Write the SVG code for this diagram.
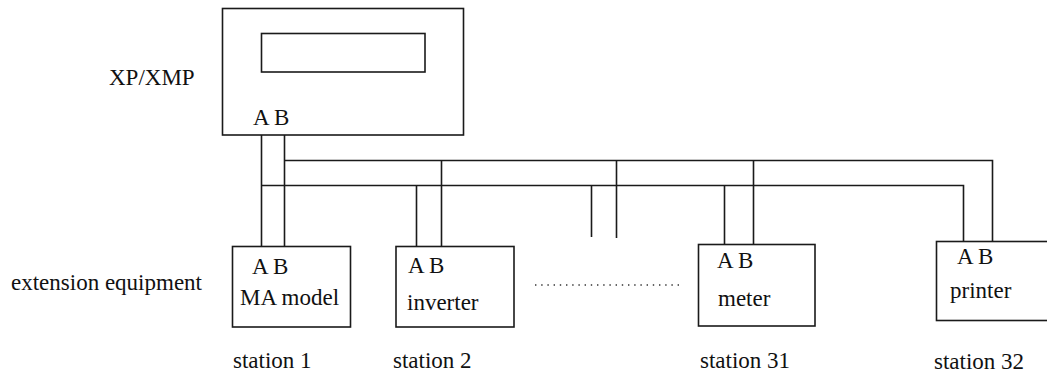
<svg xmlns="http://www.w3.org/2000/svg" width="1047" height="378" viewBox="0 0 1047 378">
<style>
.box{fill:#fff;stroke:#1a1a1a;stroke-width:1.6}
.ln{fill:none;stroke:#1a1a1a;stroke-width:1.6}
.t{font-family:"Liberation Serif","Times New Roman",serif;font-size:23px;fill:#111}
.dot{fill:none;stroke:#333;stroke-width:1.4;stroke-dasharray:1.4 4.8}
</style>
<rect width="1047" height="378" fill="#fff"/>
<g id="connectors">
<path class="ln" d="M261.5 135 V246.5 M284.5 135 V246.5"/>
<path class="ln" d="M261.5 185.5 H963.5 V241.5"/>
<path class="ln" d="M284.5 160.5 H992.5 V241.5"/>
<path class="ln" d="M416.5 185.5 V246.5 M441.5 160.5 V246.5"/>
<path class="ln" d="M591.5 185.5 V237 M616.5 160.5 V238"/>
<path class="ln" d="M724.5 185.5 V244.5 M753.5 160.5 V244.5"/>
<line class="dot" x1="535" y1="285" x2="680" y2="285"/>
</g>
<g id="xp">
<rect class="box" x="222.5" y="8.5" width="241" height="126.5"/>
<rect class="box" x="261.5" y="33.5" width="163.5" height="38.5"/>
<text class="t" x="253" y="125">A B</text>
<text class="t" x="109" y="85">XP/XMP</text>
</g>
<text class="t" x="11" y="290">extension equipment</text>
<g id="station1">
<rect class="box" x="232.5" y="246.5" width="118" height="80.5"/>
<text class="t" x="252" y="274">A B</text>
<text class="t" x="240" y="305">MA model</text>
<text class="t" x="233" y="368">station 1</text>
</g>
<g id="station2">
<rect class="box" x="396" y="246.5" width="118" height="80.5"/>
<text class="t" x="408" y="273">A B</text>
<text class="t" x="407" y="310">inverter</text>
<text class="t" x="393" y="368">station 2</text>
</g>
<g id="station31">
<rect class="box" x="698.5" y="244.5" width="116.5" height="81.5"/>
<text class="t" x="717" y="268">A B</text>
<text class="t" x="718" y="306">meter</text>
<text class="t" x="700" y="368">station 31</text>
</g>
<g id="station32">
<rect class="box" x="936.5" y="241.5" width="120" height="79"/>
<text class="t" x="957" y="264">A B</text>
<text class="t" x="950" y="298">printer</text>
<text class="t" x="934" y="369">station 32</text>
</g>
</svg>
